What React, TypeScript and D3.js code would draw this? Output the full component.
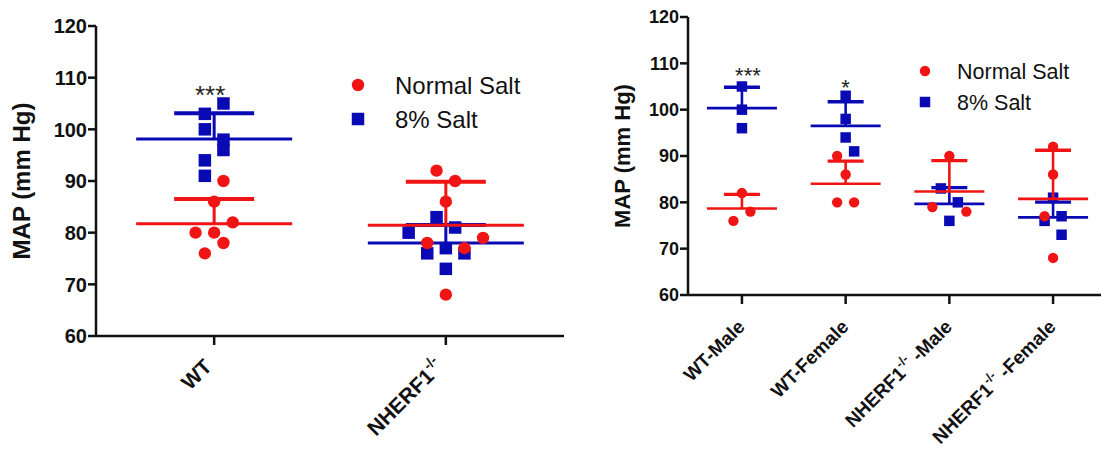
import React from "react";
import * as d3 from "d3";

// ---------- DATA ----------
const leftCategories = ["WT", "NHERF1"];
const rightCategories = ["WT-Male", "WT-Female", "NHERF1-Male", "NHERF1-Female"];
const yTicks = [60, 70, 80, 90, 100, 110, 120];

// Left panel values (mm Hg) and jitter columns
const wtNormal = [90, 86, 82, 80, 80, 78, 76];
const wtNormalCol = [1, 0, 2, -2, 0, 1, -1];
const wtHigh = [103, 105, 100, 98, 96, 94, 91];
const wtHighCol = [-1, 1, -1, 1, 1, -1, -1];
const nhNormal = [92, 90, 86, 78, 77, 79, 68];
const nhNormalCol = [-1, 1, 0, -2, 2, 4, 0];
const nhHigh = [83, 81, 80, 76, 77, 76, 73];
const nhHighCol = [-1, 1, -4, -2, 0, 2, 0];

// Right panel values
const wtMaleNormal = [82, 78, 76];
const wtMaleNormalCol = [0, 1, -1];
const wtMaleHigh = [105, 100, 96];
const wtMaleHighCol = [0, 0, 0];
const wtFemaleNormal = [90, 86, 80, 80];
const wtFemaleNormalCol = [-1, 0, -1, 1];
const wtFemaleHigh = [103, 98, 94, 91];
const wtFemaleHighCol = [0, 0, 0, 1];
const nhMaleNormal = [90, 79, 78];
const nhMaleNormalCol = [0, -2, 2];
const nhMaleHigh = [83, 80, 76];
const nhMaleHighCol = [-1, 1, 0];
const nhFemaleNormal = [92, 86, 77, 68];
const nhFemaleNormalCol = [0, 0, -1, 0];
const nhFemaleHigh = [81, 76, 77, 73];
const nhFemaleHighCol = [0, -1, 1, 1];

const leftStars = ["***", ""];
const rightStars = ["***", "*", "", ""];
const legendLabels = ["Normal Salt", "8% Salt"];

const RED = "#f01414";
const BLUE = "#0a0ab4";
const FONT = "Arial, 'Liberation Sans', Helvetica, sans-serif";

type Group = { normal: number[]; normalCol: number[]; high: number[]; highCol: number[] };

const leftGroups: Group[] = [
  { normal: wtNormal, normalCol: wtNormalCol, high: wtHigh, highCol: wtHighCol },
  { normal: nhNormal, normalCol: nhNormalCol, high: nhHigh, highCol: nhHighCol },
];
const rightGroups: Group[] = [
  { normal: wtMaleNormal, normalCol: wtMaleNormalCol, high: wtMaleHigh, highCol: wtMaleHighCol },
  { normal: wtFemaleNormal, normalCol: wtFemaleNormalCol, high: wtFemaleHigh, highCol: wtFemaleHighCol },
  { normal: nhMaleNormal, normalCol: nhMaleNormalCol, high: nhMaleHigh, highCol: nhMaleHighCol },
  { normal: nhFemaleNormal, normalCol: nhFemaleNormalCol, high: nhFemaleHigh, highCol: nhFemaleHighCol },
];

type PanelCfg = {
  x0: number; x1: number; yTop: number; yBot: number; padding: number;
  categories: string[]; groups: Group[]; stars: string[];
  jitter: number; r: number; sq: number; meanHalf: number; capHalf: number;
  meanW: number; capW: number; tickFont: number; xFont: number; titleFont: number;
  titleX: number; starFont: number; starDy: number[]; starDx: number[];
  legendX: number; legendY: number; legendGap: number; legendFont: number; legendTextDx: number;
  labelDx: number; labelDy: number; axisW: number; tickLen: number;
};

function Series({ vals, cols, cx, y, color, square, cfg }: any) {
  const m = d3.mean(vals) as number;
  const sd = d3.deviation(vals) as number;
  return (
    <g>
      <line x1={cx - cfg.meanHalf} x2={cx + cfg.meanHalf} y1={y(m)} y2={y(m)} stroke={color} strokeWidth={cfg.meanW} />
      <line x1={cx} x2={cx} y1={y(m)} y2={y(m + sd)} stroke={color} strokeWidth={cfg.meanW} />
      <line x1={cx - cfg.capHalf} x2={cx + cfg.capHalf} y1={y(m + sd)} y2={y(m + sd)} stroke={color} strokeWidth={cfg.capW} />
      {vals.map((v: number, i: number) =>
        square ? (
          <rect key={i} x={cx + cols[i] * cfg.jitter - cfg.sq / 2} y={y(v) - cfg.sq / 2} width={cfg.sq} height={cfg.sq} fill={color} />
        ) : (
          <circle key={i} cx={cx + cols[i] * cfg.jitter} cy={y(v)} r={cfg.r} fill={color} />
        )
      )}
    </g>
  );
}

function XLabel({ name, size }: { name: string; size: number }) {
  if (name.startsWith("NHERF1")) {
    const rest = name.slice(6);
    return (
      <>
        NHERF1
        <tspan fontSize={size * 0.68} dy={-size * 0.45}>-/-</tspan>
        <tspan dy={size * 0.45}>{rest ? " " + rest : ""}</tspan>
      </>
    );
  }
  return <>{name}</>;
}

function Panel({ cfg }: { cfg: PanelCfg }) {
  const y = d3.scaleLinear().domain([60, 120]).range([cfg.yBot, cfg.yTop]);
  const x = d3.scalePoint<string>().domain(cfg.categories).range([cfg.x0, cfg.x1]).padding(cfg.padding);
  return (
    <g fontFamily={FONT}>
      {/* axes */}
      <line x1={cfg.x0} x2={cfg.x0} y1={cfg.yTop} y2={cfg.yBot} stroke="#111" strokeWidth={cfg.axisW} />
      <line x1={cfg.x0} x2={cfg.x1} y1={cfg.yBot} y2={cfg.yBot} stroke="#111" strokeWidth={cfg.axisW} />
      {yTicks.map((t) => (
        <g key={t}>
          <line x1={cfg.x0 - cfg.tickLen} x2={cfg.x0} y1={y(t)} y2={y(t)} stroke="#111" strokeWidth={cfg.axisW} />
          <text x={cfg.x0 - cfg.tickLen - 1} y={y(t)} dy="0.36em" textAnchor="end" fontWeight="bold" fontSize={cfg.tickFont} fill="#111">
            {t}
          </text>
        </g>
      ))}
      {cfg.categories.map((c) => {
        const cx = x(c) as number;
        return (
          <g key={c}>
            <line x1={cx} x2={cx} y1={cfg.yBot} y2={cfg.yBot + cfg.tickLen + 1} stroke="#111" strokeWidth={cfg.axisW} />
            <text
              transform={`translate(${cx + cfg.labelDx},${cfg.yBot + cfg.labelDy}) rotate(-45)`}
              textAnchor="end"
              fontWeight="bold"
              fontSize={cfg.xFont}
              fill="#111"
            >
              <XLabel name={c} size={cfg.xFont} />
            </text>
          </g>
        );
      })}
      <text
        transform={`translate(${cfg.titleX},${(cfg.yTop + cfg.yBot) / 2}) rotate(-90)`}
        textAnchor="middle"
        fontWeight="bold"
        fontSize={cfg.titleFont}
        fill="#111"
      >
        MAP (mm Hg)
      </text>
      {/* data */}
      {cfg.categories.map((c, gi) => {
        const cx = x(c) as number;
        const g = cfg.groups[gi];
        return (
          <g key={c}>
            <Series vals={g.high} cols={g.highCol} cx={cx} y={y} color={BLUE} square cfg={cfg} />
            <Series vals={g.normal} cols={g.normalCol} cx={cx} y={y} color={RED} square={false} cfg={cfg} />
            {cfg.stars[gi] ? (
              <text x={cx + cfg.starDx[gi]} y={y(d3.max(g.high) as number) + cfg.starDy[gi]} textAnchor="middle" fontSize={cfg.starFont} fill="#222">
                {cfg.stars[gi]}
              </text>
            ) : null}
          </g>
        );
      })}
      {/* legend */}
      <circle cx={cfg.legendX} cy={cfg.legendY} r={cfg.r} fill={RED} />
      <rect x={cfg.legendX - cfg.sq / 2} y={cfg.legendY + cfg.legendGap - cfg.sq / 2} width={cfg.sq} height={cfg.sq} fill={BLUE} />
      {legendLabels.map((l, i) => (
        <text key={l} x={cfg.legendX + cfg.legendTextDx} y={cfg.legendY + i * cfg.legendGap} dy="0.36em" fontSize={cfg.legendFont} fill="#111">
          {l}
        </text>
      ))}
    </g>
  );
}

const leftCfg: PanelCfg = {
  x0: 96, x1: 564, yTop: 26, yBot: 336, padding: 0.51,
  categories: leftCategories, groups: leftGroups, stars: leftStars,
  jitter: 9.3, r: 6.2, sq: 12.5, meanHalf: 78, capHalf: 40, meanW: 3, capW: 4,
  tickFont: 20, xFont: 21, titleFont: 24, titleX: 30, starFont: 26, starDy: [0, 0], starDx: [-4, 0],
  legendX: 358, legendY: 85, legendGap: 34, legendFont: 24, legendTextDx: 37,
  labelDx: -1, labelDy: 32, axisW: 2.5, tickLen: 8,
};

const rightCfg: PanelCfg = {
  x0: 688, x1: 1107, yTop: 17, yBot: 295, padding: 0.52,
  categories: rightCategories, groups: rightGroups, stars: rightStars,
  jitter: 8.5, r: 5.2, sq: 10.5, meanHalf: 35, capHalf: 18, meanW: 2.6, capW: 3.4,
  tickFont: 18, xFont: 19, titleFont: 22, titleX: 630, starFont: 22, starDy: [-3.4, -1.2, 0, 0], starDx: [6, 0, 0, 0],
  legendX: 925, legendY: 71, legendGap: 31, legendFont: 21.5, legendTextDx: 32,
  labelDx: 4, labelDy: 33, axisW: 2.5, tickLen: 8,
};

export default function App() {
  return (
    <svg width={1101} height={451} style={{ position: "absolute", left: 0, top: 0, background: "#fff" }}>
      <rect width={1101} height={451} fill="#fff" />
      <Panel cfg={leftCfg} />
      <Panel cfg={rightCfg} />
    </svg>
  );
}
